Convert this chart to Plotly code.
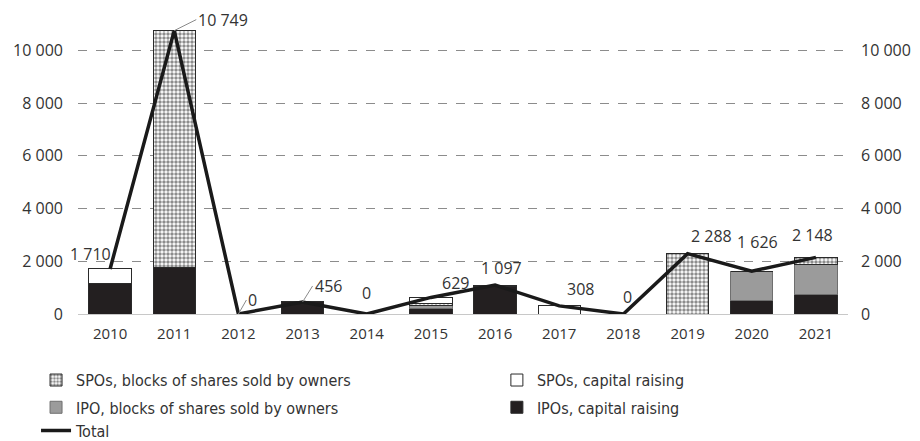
import plotly.graph_objects as go

years = ["2010", "2011", "2012", "2013", "2014", "2015", "2016", "2017", "2018", "2019", "2020", "2021"]
ipo_capital = [1140, 1750, 0, 456, 0, 195, 1060, 0, 0, 0, 530, 758]
ipo_blocks = [0, 0, 0, 0, 0, 130, 0, 0, 0, 0, 1096, 1125]
spo_blocks = [0, 8999, 0, 0, 0, 75, 37, 0, 0, 2288, 0, 265]
spo_capital = [570, 0, 0, 0, 0, 229, 0, 308, 0, 0, 0, 0]
total = [1710, 10749, 0, 456, 0, 629, 1097, 308, 0, 2288, 1626, 2148]
y_ticks = [0, 2000, 4000, 6000, 8000, 10000]

FONT = "Open Sans, DejaVu Sans, sans-serif"
LEG_FONT = "Liberation Sans Narrow, DejaVu Sans Condensed, Roboto Condensed, sans-serif"
TXT = "#333333"
EDGE = "#2a2a2a"


def fmt(v):
    return f"{v:,}".replace(",", " ")


fig = go.Figure()

fig.add_bar(x=years, y=ipo_capital, name="IPOs, capital raising", legend="legend4",
            marker=dict(color="#231f20", line=dict(color=EDGE, width=1)))
fig.add_bar(x=years, y=ipo_blocks, name="IPO, blocks of shares sold by owners", legend="legend3",
            marker=dict(color="#9b9b9b", line=dict(color="#6f6f6f", width=1)))
fig.add_bar(x=years, y=spo_blocks, name="SPOs, blocks of shares sold by owners", legend="legend",
            marker=dict(color="white", line=dict(color=EDGE, width=1),
                        pattern=dict(shape=".", fgcolor="#1a1a1a", bgcolor="white",
                                     size=4, solidity=0.6)))
fig.add_bar(x=years, y=spo_capital, name="SPOs, capital raising", legend="legend2",
            marker=dict(color="white", line=dict(color=EDGE, width=1)))
fig.add_scatter(x=years, y=total, name="Total", legend="legend5", mode="lines",
                line=dict(color="#1a1a1a", width=3.5), yaxis="y2")

# value labels: (xshift, yshift) in px, or arrow offsets for leader lines
label_pos = {
    "2010": dict(xshift=-20, yshift=15),
    "2011": dict(arrow=(22, -11)),
    "2012": dict(arrow=(8, -14)),
    "2013": dict(arrow=(10, -16)),
    "2014": dict(xshift=0, yshift=21),
    "2015": dict(xshift=25, yshift=14),
    "2016": dict(xshift=6, yshift=17),
    "2017": dict(xshift=21, yshift=17),
    "2018": dict(xshift=4, yshift=17),
    "2019": dict(xshift=24, yshift=18),
    "2020": dict(xshift=6, yshift=29),
    "2021": dict(xshift=-3, yshift=22),
}
for i, (yr, v) in enumerate(zip(years, total)):
    p = label_pos[yr]
    if "arrow" in p:
        ax, ay = p["arrow"]
        fig.add_annotation(x=i, y=v, xref="x", yref="y", text=fmt(v), showarrow=True,
                           arrowhead=0, arrowwidth=1, arrowcolor="#8a8a8a",
                           ax=ax, ay=ay, xanchor="left", yanchor="middle", standoff=0,
                           font=dict(family=FONT, size=16, color=TXT))
    else:
        fig.add_annotation(x=i, y=v, xref="x", yref="y", text=fmt(v), showarrow=False,
                           xshift=p["xshift"], yshift=p["yshift"],
                           font=dict(family=FONT, size=16, color=TXT))


def leg(x, y):
    return dict(orientation="v", x=x, y=y, xanchor="left", yanchor="middle",
                font=dict(family=LEG_FONT, size=16, color=TXT), bgcolor="rgba(0,0,0,0)",
                itemwidth=30, tracegroupgap=0)


COL1, COL2 = -0.0545, 0.544
ROW1, ROW2, ROW3 = -0.228, -0.322, -0.402

fig.update_layout(
    width=920, height=441,
    margin=dict(l=78, r=72, t=24, b=127, autoexpand=False),
    paper_bgcolor="white", plot_bgcolor="white",
    barmode="stack", bargap=0.34,
    separators=". ",
    showlegend=True,
    legend=leg(COL1, ROW1),
    legend2=leg(COL2, ROW1),
    legend3=leg(COL1, ROW2),
    legend4=leg(COL2, ROW2),
    legend5=leg(COL1, ROW3),
    xaxis=dict(type="category", range=[-0.5, len(years) - 0.5], showgrid=False,
               showline=True, linecolor="#c8c8c8", linewidth=1, ticks="",
               ticklabelstandoff=6, tickfont=dict(family=FONT, size=15, color=TXT)),
    yaxis=dict(range=[0, 11000], tickvals=y_ticks, tickformat=",", showgrid=True,
               gridcolor="#8c8c8c", griddash="dash", gridwidth=1, zeroline=True,
               zerolinecolor="#c8c8c8", zerolinewidth=1, ticks="", ticklabelstandoff=14,
               tickfont=dict(family=FONT, size=16, color=TXT)),
    yaxis2=dict(range=[0, 11000], tickvals=y_ticks, tickformat=",", overlaying="y",
                side="right", showgrid=False, zeroline=False, ticks="", ticklabelstandoff=12,
                tickfont=dict(family=FONT, size=16, color=TXT)),
)

fig.write_html("out.html")
